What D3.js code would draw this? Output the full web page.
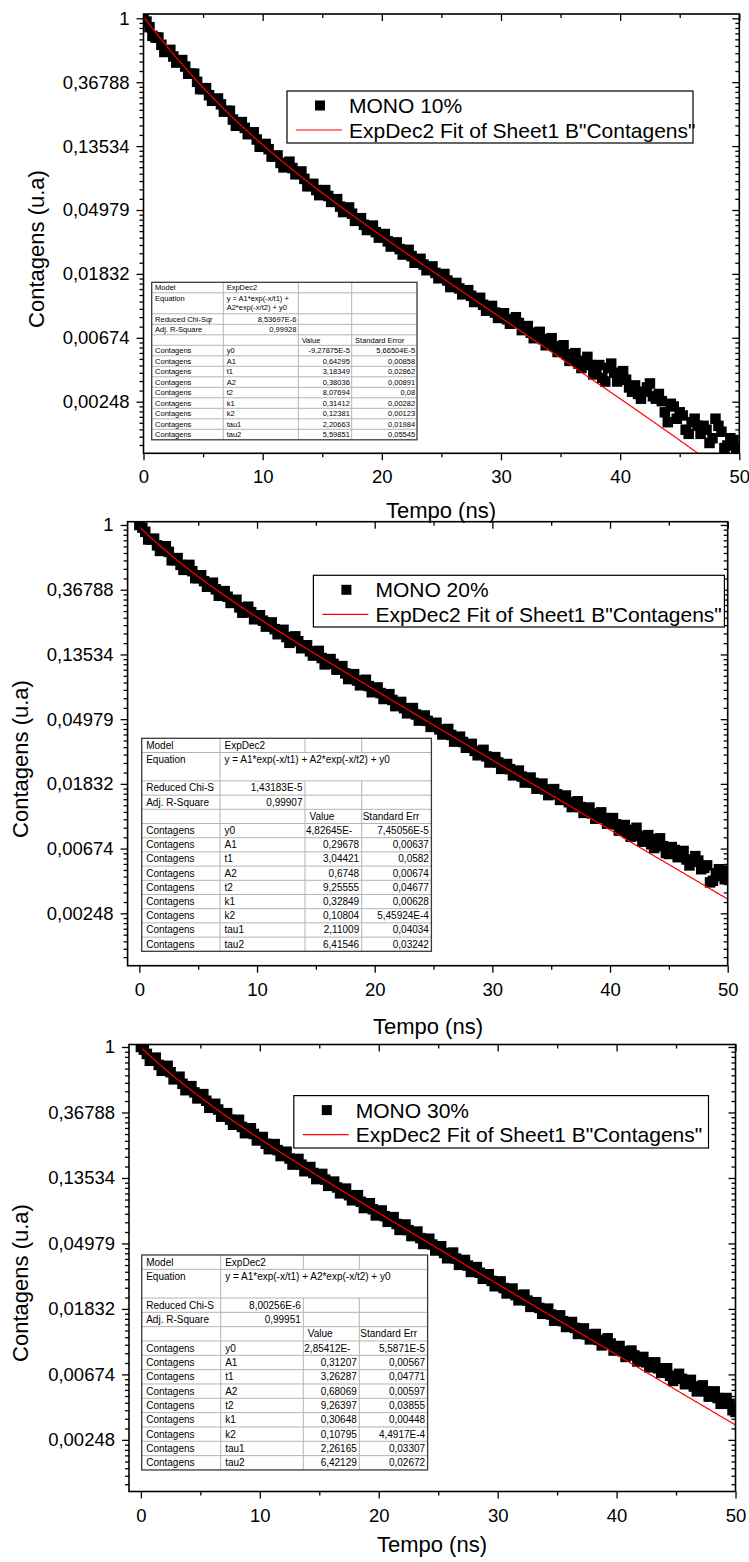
<!DOCTYPE html>
<html>
<head>
<meta charset="utf-8">
<script src="https://cdn.jsdelivr.net/npm/d3@7"></script>
<style>
  html, body { margin: 0; padding: 0; background: #fff; }
  svg { display: block; font-family: Arial, "Liberation Sans", sans-serif; }
</style>
</head>
<body>
<svg id="chart" width="749" height="1562"></svg>
<script>
// ---- time channels (ns) ----
const tempo = [
  0,0.25,0.5,0.75,1,1.25,1.5,1.75,2,2.25,2.5,2.75,3,3.25,3.5,3.75,4,4.25,4.5,4.75,
  5,5.25,5.5,5.75,6,6.25,6.5,6.75,7,7.25,7.5,7.75,8,8.25,8.5,8.75,9,9.25,9.5,9.75,
  10,10.25,10.5,10.75,11,11.25,11.5,11.75,12,12.25,12.5,12.75,13,13.25,13.5,13.75,14,14.25,14.5,14.75,
  15,15.25,15.5,15.75,16,16.25,16.5,16.75,17,17.25,17.5,17.75,18,18.25,18.5,18.75,19,19.25,19.5,19.75,
  20,20.25,20.5,20.75,21,21.25,21.5,21.75,22,22.25,22.5,22.75,23,23.25,23.5,23.75,24,24.25,24.5,24.75,
  25,25.25,25.5,25.75,26,26.25,26.5,26.75,27,27.25,27.5,27.75,28,28.25,28.5,28.75,29,29.25,29.5,29.75,
  30,30.25,30.5,30.75,31,31.25,31.5,31.75,32,32.25,32.5,32.75,33,33.25,33.5,33.75,34,34.25,34.5,34.75,
  35,35.25,35.5,35.75,36,36.25,36.5,36.75,37,37.25,37.5,37.75,38,38.25,38.5,38.75,39,39.25,39.5,39.75,
  40,40.25,40.5,40.75,41,41.25,41.5,41.75,42,42.25,42.5,42.75,43,43.25,43.5,43.75,44,44.25,44.5,44.75,
  45,45.25,45.5,45.75,46,46.25,46.5,46.75,47,47.25,47.5,47.75,48,48.25,48.5,48.75,49,49.25,49.5,49.75,
  50];

// ---- normalised counts, one array per sample ----
const contagens10 = [
  1.00,0.95,0.87,0.76,0.74,0.74,0.66,0.59,0.60,0.61,0.55,0.50,0.51,0.52,0.47,0.42,0.42,0.42,0.37,0.33,
  0.33,0.335,0.30,0.275,0.28,0.285,0.26,0.232,0.235,0.235,0.205,0.186,0.19,0.197,0.18,0.163,0.166,0.168,0.150,0.134,
  0.134,0.140,0.129,0.115,0.115,0.117,0.104,0.097,0.103,0.106,0.0960,0.087,0.0890,0.091,0.0810,0.0722,0.0725,0.0750,0.0680,0.0628,
  0.0655,0.0680,0.0620,0.0565,0.0580,0.0590,0.0525,0.0482,0.0500,0.0518,0.0470,0.0420,0.0425,0.0438,0.0395,0.0364,0.0380,0.0390,0.0352,0.0323,
  0.0335,0.0342,0.0305,0.0281,0.0292,0.0300,0.0270,0.0248,0.0258,0.0267,0.0242,0.0218,0.0222,0.0232,0.0212,0.0194,0.0200,0.0206,0.0186,0.0171,
  0.0178,0.0183,0.0165,0.0149,0.0152,0.0159,0.0146,0.0133,0.0136,0.0142,0.0130,0.0118,0.0122,0.0126,0.0113,0.0103,0.0107,0.0111,0.0100,0.0092,
  0.00955,0.0099,0.00900,0.0084,0.00880,0.0093,0.00850,0.0076,0.00770,0.0081,0.00730,0.0067,0.00710,0.0074,0.00660,0.0060,0.00640,0.0067,0.00590,0.0054,
  0.00570,0.0060,0.00520,0.0047,0.00500,0.0053,0.00450,0.0042,0.00470,0.0050,0.00440,0.0038,0.00400,0.0044,0.00360,0.0034,0.00420,0.0045,0.00390,0.0034,
  0.00380,0.0040,0.00350,0.0031,0.00290,0.0032,0.00280,0.0026,0.00290,0.0031,0.00330,0.0027,0.00260,0.0028,0.00250,0.0021,0.00180,0.0024,0.00230,0.0019,
  0.00210,0.0020,0.00160,0.0015,0.00180,0.0019,0.00170,0.0015,0.00170,0.0016,0.00130,0.0014,0.00190,0.0017,0.00155,0.0012,0.00125,0.0014,0.00136,0.00118,
  0.00120];

const contagens20 = [
  1.00,0.96,0.90,0.80,0.80,0.81,0.73,0.67,0.70,0.72,0.66,0.58,0.58,0.60,0.54,0.50,0.52,0.54,0.49,0.44,
  0.44,0.46,0.42,0.385,0.40,0.41,0.37,0.335,0.34,0.36,0.33,0.30,0.31,0.315,0.28,0.258,0.27,0.283,0.26,0.233,
  0.235,0.248,0.228,0.208,0.215,0.222,0.200,0.185,0.194,0.198,0.177,0.162,0.168,0.179,0.166,0.149,0.150,0.156,0.142,0.133,
  0.140,0.143,0.128,0.116,0.119,0.126,0.117,0.107,0.111,0.113,0.101,0.0925,0.096,0.0998,0.0905,0.0840,0.0880,0.0915,0.0830,0.0755,
  0.0775,0.0813,0.0745,0.0680,0.0700,0.0733,0.0670,0.0609,0.0625,0.0650,0.0590,0.0545,0.0570,0.0591,0.0535,0.0487,0.0500,0.0527,0.0485,0.0442,
  0.0455,0.0471,0.0425,0.0393,0.0410,0.0428,0.0390,0.0352,0.0360,0.0380,0.0350,0.0320,0.0330,0.0340,0.0305,0.0285,0.0300,0.0310,0.0280,0.0255,
  0.0262,0.0277,0.0255,0.0231,0.0236,0.0249,0.0230,0.0209,0.0214,0.0225,0.0205,0.0187,0.0192,0.0202,0.0186,0.0170,0.0175,0.0184,0.0168,0.0154,
  0.0160,0.0169,0.0156,0.0143,0.0147,0.0153,0.0138,0.0128,0.0133,0.0140,0.0128,0.0117,0.0121,0.0127,0.0116,0.0107,0.0112,0.0118,0.0108,0.0099,
  0.0102,0.0108,0.0098,0.0089,0.0094,0.0097,0.0086,0.0081,0.0090,0.0093,0.0082,0.0075,0.0080,0.0083,0.0072,0.0068,0.0078,0.0079,0.0070,0.0063,
  0.0062,0.0069,0.0066,0.0059,0.0063,0.0065,0.0057,0.0052,0.0055,0.0060,0.0056,0.0049,0.0050,0.0052,0.0040,0.0041,0.0046,0.0049,0.0044,0.0042,
  0.0048];

const contagens30 = [
  1.00,0.96,0.90,0.81,0.83,0.85,0.76,0.695,0.72,0.75,0.68,0.61,0.62,0.635,0.57,0.517,0.53,0.55,0.50,0.456,
  0.47,0.487,0.44,0.395,0.40,0.42,0.385,0.345,0.35,0.364,0.33,0.305,0.32,0.329,0.295,0.268,0.275,0.289,0.265,0.240,
  0.245,0.253,0.228,0.210,0.218,0.227,0.207,0.189,0.196,0.202,0.182,0.166,0.172,0.181,0.166,0.150,0.153,0.160,0.146,0.133,
  0.137,0.144,0.132,0.120,0.1225,0.128,0.117,0.107,0.111,0.115,0.104,0.0962,0.1005,0.1040,0.0940,0.0855,0.0880,0.0920,0.0840,0.0764,
  0.0785,0.0824,0.0755,0.0693,0.0720,0.0744,0.0670,0.0612,0.0632,0.0665,0.0610,0.0557,0.0575,0.0597,0.0540,0.0494,0.0510,0.0535,0.0490,0.0447,
  0.0462,0.0477,0.0430,0.0397,0.0415,0.0433,0.0395,0.0359,0.0368,0.0387,0.0355,0.0322,0.0330,0.0347,0.0318,0.0290,0.0300,0.0311,0.0281,0.0259,
  0.0270,0.0279,0.0252,0.0232,0.0242,0.0250,0.0226,0.0209,0.0218,0.0228,0.0208,0.0189,0.0194,0.0203,0.0186,0.0170,0.0176,0.0184,0.0168,0.0153,
  0.0158,0.0166,0.0152,0.0139,0.0143,0.0150,0.0137,0.0125,0.0130,0.0136,0.0124,0.0115,0.0120,0.0125,0.0114,0.0105,0.0110,0.0117,0.0108,0.0097,
  0.0098,0.0104,0.0096,0.0088,0.0092,0.0097,0.0090,0.0082,0.0084,0.0088,0.0081,0.0075,0.0078,0.0081,0.0074,0.0069,0.0072,0.0074,0.0066,0.0061,
  0.0064,0.0068,0.0063,0.0058,0.0060,0.0062,0.0056,0.0052,0.0054,0.0057,0.0052,0.0048,0.0051,0.0052,0.0047,0.0043,0.0045,0.0047,0.0043,0.0039,
  0.0038];

const seriesNames = ["MONO 10%", "MONO 20%", "MONO 30%"];
const fitLabel = 'ExpDec2 Fit of Sheet1 B"Contagens"';
const xTitle = "Tempo (ns)";
const yTitle = "Contagens (u.a)";

// ---- axis ticks ----
const xTicks = [0, 10, 20, 30, 40, 50];
const xMinorTicks = [5, 15, 25, 35, 45];
const yTickLabels = ["1", "0,36788", "0,13534", "0,04979", "0,01832", "0,00674", "0,00248"];

// ---- fit report tables (ExpDec2) ----
const equation = "y = A1*exp(-x/t1) + A2*exp(-x/t2) + y0";
const paramNames = ["y0", "A1", "t1", "A2", "t2", "k1", "k2", "tau1", "tau2"];
const values10 = ["-9,27875E-5", "0,64295", "3,18349", "0,38036", "8,07694", "0,31412", "0,12381", "2,20663", "5,59851"];
const errors10 = ["5,66504E-5", "0,00858", "0,02862", "0,00891", "0,08", "0,00282", "0,00123", "0,01984", "0,05545"];
const stats10 = ["8,53697E-6", "0,99928"];
const values20 = ["4,82645E-5", "0,29678", "3,04421", "0,6748", "9,25555", "0,32849", "0,10804", "2,11009", "6,41546"];
const errors20 = ["7,45056E-5", "0,00637", "0,0582", "0,00674", "0,04677", "0,00628", "5,45924E-4", "0,04034", "0,03242"];
const stats20 = ["1,43183E-5", "0,99907"];
const values30 = ["2,85412E-5", "0,31207", "3,26287", "0,68069", "9,26397", "0,30648", "0,10795", "2,26165", "6,42129"];
const errors30 = ["5,5871E-5", "0,00567", "0,04771", "0,00597", "0,03855", "0,00448", "4,4917E-4", "0,03307", "0,02672"];
const stats30 = ["8,00256E-6", "0,99951"];

// decimal-comma string -> number
const num = s => +s.replace(",", ".");
const yTickValues = yTickLabels.map(num);

// ---- page layout of the three stacked graphs ----
const panels = [
  { data: contagens10, name: seriesNames[0], values: values10, errors: errors10, stats: stats10,
    plot: { l: 143.5, r: 739.3, t: 14, b: 453.3 }, xDom: [0, 50], yDom: [Math.exp(-6.807), Math.exp(0.067)],
    legend: { x: 287, y: 91, w: 406, h: 52 },
    table: { x: 151.7, y: 282.3, cols: [71.6, 75, 53.4, 65.3], row: 10.5, font: 7.5, eqWide: false },
    xTitlePos: [441, 517.5], yTitlePos: [43.6, 249] },
  { data: contagens20, name: seriesNames[1], values: values20, errors: errors20, stats: stats20,
    plot: { l: 127.6, r: 727.7, t: 521.7, b: 965.7 }, xDom: [-1, 50], yDom: [Math.exp(-6.809), Math.exp(0.051)],
    legend: { x: 313.4, y: 575.3, w: 411, h: 51.7 },
    table: { x: 141.7, y: 738.3, cols: [78.3, 85, 56.7, 69.7], row: 14.2, font: 10, eqWide: true },
    xTitlePos: [428, 1034], yTitlePos: [28, 759] },
  { data: contagens30, name: seriesNames[2], values: values30, errors: errors30, stats: stats30,
    plot: { l: 129, r: 735.5, t: 1044.5, b: 1491.5 }, xDom: [-1, 50], yDom: [Math.exp(-6.788), Math.exp(0.038)],
    legend: { x: 293.8, y: 1095.6, w: 414.7, h: 52.4 },
    table: { x: 141.7, y: 1255, cols: [79, 82.6, 56, 68.3], row: 14.33, font: 10, eqWide: true },
    xTitlePos: [432, 1552], yTitlePos: [28, 1283] }
];

const svg = d3.select("#chart");
svg.append("rect").attr("width", 749).attr("height", 1562).attr("fill", "#fff");

panels.forEach((p, i) => drawPanel(svg.append("g"), p, i));

function drawPanel(g, p, i) {
  const P = p.plot;
  const x = d3.scaleLinear().domain(p.xDom).range([P.l, P.r]);
  const y = d3.scaleLog().domain(p.yDom).range([P.b, P.t]);

  const clipId = "plot-clip-" + i;
  g.append("clipPath").attr("id", clipId)
    .append("rect").attr("x", P.l).attr("y", P.t).attr("width", P.r - P.l).attr("height", P.b - P.t);

  // measured decay: filled squares
  const S = 10.5;
  const pts = tempo.map((t, k) => ({ t, c: p.data[k] }));
  g.append("g").attr("clip-path", `url(#${clipId})`)
    .selectAll("rect").data(pts).join("rect")
    .attr("x", d => x(d.t) - S / 2).attr("y", d => y(d.c) - S / 2)
    .attr("width", S).attr("height", S).attr("fill", "#000");

  // ExpDec2 fit curve from the reported parameters
  const par = {};
  paramNames.forEach((n, k) => { par[n] = num(p.values[k]); });
  const fit = t => par.A1 * Math.exp(-t / par.t1) + par.A2 * Math.exp(-t / par.t2) + par.y0;
  const ts = d3.range(0, 50.0001, 0.1);
  g.append("path").attr("clip-path", `url(#${clipId})`)
    .datum(ts.filter(t => fit(t) > 0))
    .attr("d", d3.line().x(t => x(t)).y(t => y(fit(t))))
    .attr("fill", "none").attr("stroke", "#ff0000").attr("stroke-width", 1.2);

  // minor ticks of the ln axis: linear subdivisions between e^-n marks
  const yMinor = [];
  for (let n = -1; n < 7; n++) {
    const hi = Math.exp(-n), lo = Math.exp(-n - 1);
    for (let k = 1; k < 9; k++) {
      const v = lo + k * (hi - lo) / 9;
      if (v > p.yDom[0] && v < p.yDom[1]) yMinor.push(v);
    }
  }

  const axisStyle = sel => {
    sel.select(".domain").remove();
    sel.selectAll(".tick line").attr("stroke", "#000").attr("stroke-width", 1.3);
    sel.selectAll(".tick text").attr("fill", "#000").attr("font-size", 18.5)
      .attr("font-family", 'Arial, "Liberation Sans", sans-serif');
  };

  // bottom (outward, labelled)
  g.append("g").attr("transform", `translate(0,${P.b})`)
    .call(d3.axisBottom(x).tickValues(xTicks).tickFormat(d3.format("d")).tickSize(7).tickPadding(10).tickSizeOuter(0))
    .call(axisStyle);
  g.append("g").attr("transform", `translate(0,${P.b})`)
    .call(d3.axisBottom(x).tickValues(xMinorTicks).tickFormat("").tickSize(4).tickSizeOuter(0))
    .call(axisStyle);
  // top (inward)
  g.append("g").attr("transform", `translate(0,${P.t})`)
    .call(d3.axisBottom(x).tickValues(xTicks).tickFormat("").tickSize(7).tickSizeOuter(0))
    .call(axisStyle);
  g.append("g").attr("transform", `translate(0,${P.t})`)
    .call(d3.axisBottom(x).tickValues(xMinorTicks).tickFormat("").tickSize(4).tickSizeOuter(0))
    .call(axisStyle);
  // left (outward, labelled)
  g.append("g").attr("transform", `translate(${P.l},0)`)
    .call(d3.axisLeft(y).tickValues(yTickValues).tickFormat((d, k) => yTickLabels[k]).tickSize(7).tickPadding(7).tickSizeOuter(0))
    .call(axisStyle);
  g.append("g").attr("transform", `translate(${P.l},0)`)
    .call(d3.axisLeft(y).tickValues(yMinor).tickFormat("").tickSize(4).tickSizeOuter(0))
    .call(axisStyle);
  // right (inward)
  g.append("g").attr("transform", `translate(${P.r},0)`)
    .call(d3.axisLeft(y).tickValues(yTickValues).tickFormat("").tickSize(7).tickSizeOuter(0))
    .call(axisStyle);
  g.append("g").attr("transform", `translate(${P.r},0)`)
    .call(d3.axisLeft(y).tickValues(yMinor).tickFormat("").tickSize(4).tickSizeOuter(0))
    .call(axisStyle);

  // frame
  g.append("rect").attr("x", P.l).attr("y", P.t).attr("width", P.r - P.l).attr("height", P.b - P.t)
    .attr("fill", "none").attr("stroke", "#000").attr("stroke-width", 1.6);

  // axis titles
  g.append("text").attr("x", p.xTitlePos[0]).attr("y", p.xTitlePos[1])
    .attr("text-anchor", "middle").attr("font-size", 22).attr("fill", "#000").text(xTitle);
  g.append("text").attr("transform", `translate(${p.yTitlePos[0]},${p.yTitlePos[1]}) rotate(-90)`)
    .attr("text-anchor", "middle").attr("font-size", 22).attr("fill", "#000").text(yTitle);

  drawLegend(g, p);
  drawTable(g, p);
}

function drawLegend(g, p) {
  const L = p.legend;
  const lg = g.append("g");
  lg.append("rect").attr("x", L.x).attr("y", L.y).attr("width", L.w).attr("height", L.h)
    .attr("fill", "#fff").attr("stroke", "#000").attr("stroke-width", 1.2);
  const r1 = L.y + 14.5, r2 = L.y + 39;
  lg.append("rect").attr("x", L.x + 33 - 5).attr("y", r1 - 5).attr("width", 10).attr("height", 10).attr("fill", "#000");
  lg.append("text").attr("x", L.x + 62).attr("y", r1 + 7.5).attr("font-size", 21).attr("fill", "#000").text(p.name);
  lg.append("line").attr("x1", L.x + 9).attr("x2", L.x + 55).attr("y1", r2).attr("y2", r2)
    .attr("stroke", "#ff0000").attr("stroke-width", 1.2);
  lg.append("text").attr("x", L.x + 62).attr("y", r2 + 7.5).attr("font-size", 21).attr("fill", "#000").text(fitLabel);
}

// shorten a cell's text until it fits; returns true if it was cut
function fitText(sel, text, maxW) {
  let s = text;
  sel.text(s);
  let cut = false;
  while (s.length > 1 && sel.node().getComputedTextLength() > maxW) {
    s = s.slice(0, -1);
    sel.text(s);
    cut = true;
  }
  return cut;
}

function drawTable(g, p) {
  const T = p.table, f = T.font;
  const xs = [T.x];
  T.cols.forEach(w => xs.push(xs[xs.length - 1] + w));
  const rows = [
    { cells: ["Model", "ExpDec2", "", ""], span: 1, right: [0, 0, 0, 0] },
    { cells: ["Equation", equation, "", ""], span: 2, eq: true, right: [0, 0, 0, 0] },
    { cells: ["Reduced Chi-Sqr", p.stats[0], "", ""], span: 1, right: [0, 1, 0, 0] },
    { cells: ["Adj. R-Square", p.stats[1], "", ""], span: 1, right: [0, 1, 0, 0] },
    { cells: ["", "", "Value", "Standard Error"], span: 1, right: [0, 0, 0, 0] }
  ].concat(paramNames.map((n, k) => ({
    cells: ["Contagens", n, p.values[k], p.errors[k]], span: 1, right: [0, 0, 1, 1]
  })));
  let yy = T.y;
  rows.forEach(r => { r.y = yy; r.h = T.row * r.span; yy += r.h; });
  const bottom = yy;

  const tg = g.append("g");
  tg.append("rect").attr("x", xs[0]).attr("y", T.y).attr("width", xs[4] - xs[0]).attr("height", bottom - T.y)
    .attr("fill", "#fff");
  const grid = tg.append("g").attr("stroke", "#b4b4b4").attr("stroke-width", 1);
  rows.slice(1).forEach(r => grid.append("line")
    .attr("x1", xs[0]).attr("x2", xs[4]).attr("y1", r.y).attr("y2", r.y));
  [1, 2, 3].forEach(c => rows.forEach(r => {
    if (r.eq && T.eqWide && c > 1) return;
    grid.append("line").attr("x1", xs[c]).attr("x2", xs[c]).attr("y1", r.y).attr("y2", r.y + r.h);
  }));
  tg.append("rect").attr("x", xs[0]).attr("y", T.y).attr("width", xs[4] - xs[0]).attr("height", bottom - T.y)
    .attr("fill", "none").attr("stroke", "#3a3a3a").attr("stroke-width", 1.3);

  const padL = 0.45 * f, padR = 0.25 * f, avail = c => T.cols[c] - 0.9 * f;
  rows.forEach(r => {
    const base = r.y + T.row * 0.74;
    r.cells.forEach((txt, c) => {
      if (!txt) return;
      if (r.eq && c === 1) {
        // equation wraps inside its (possibly merged) cell
        const w = (T.eqWide ? xs[4] : xs[2]) - xs[1] - 2 * padL;
        const words = txt.split(" ");
        const probe = tg.append("text").attr("font-size", f);
        const lines = [];
        let line = "";
        words.forEach(wd => {
          const test = line ? line + " " + wd : wd;
          probe.text(test);
          if (probe.node().getComputedTextLength() > w && line) { lines.push(line); line = wd; }
          else line = test;
        });
        lines.push(line);
        probe.remove();
        lines.forEach((ln, k) => tg.append("text").attr("x", xs[1] + padL).attr("y", base + k * f * 1.2)
          .attr("font-size", f).attr("fill", "#000").text(ln));
        return;
      }
      const t = tg.append("text").attr("y", base).attr("font-size", f).attr("fill", "#000");
      const cut = fitText(t, txt, avail(c));
      if (r.right[c] && !cut) t.attr("x", xs[c + 1] - padR).attr("text-anchor", "end");
      else t.attr("x", xs[c] + (cut && c > 1 ? 1 : padL));
    });
  });
}
</script>
</body>
</html>
